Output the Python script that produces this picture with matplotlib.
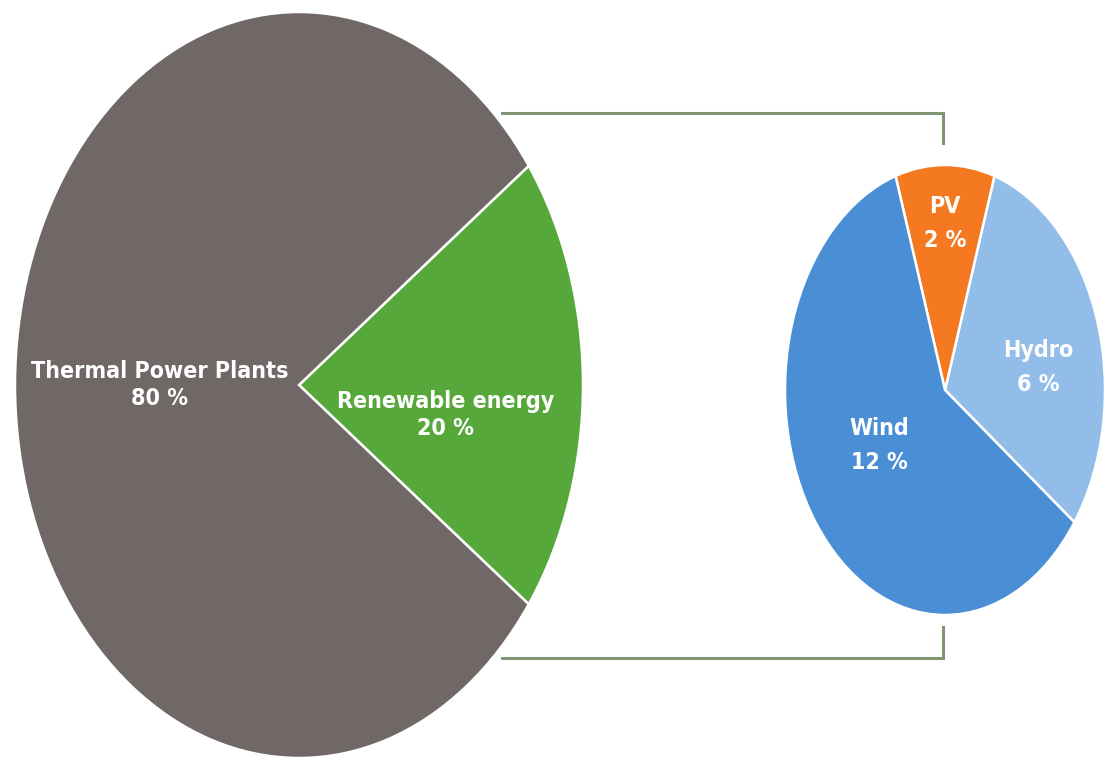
import matplotlib
matplotlib.use("Agg")
import matplotlib.pyplot as plt
from matplotlib.lines import Line2D
from matplotlib import font_manager
from matplotlib.font_manager import FontProperties

# ---- data ----
main_labels = ["Renewable energy", "Thermal Power Plants"]
main_values = [20, 80]
sub_labels = ["Hydro", "PV", "Wind"]
sub_values = [6, 2, 12]

# ---- style ----
main_colors = ["#57a83a", "#706867"]
sub_colors = ["#93bde9", "#f47920", "#4a8fd6"]
line_color = "#7f9672"

# look for a condensed / narrow bold face
cond = None
for f in font_manager.fontManager.ttflist:
    nm = f.name.lower()
    fn = f.fname.lower()
    is_cond = ("narrow" in nm or "condensed" in nm or "condensed" in fn
               or "narrow" in fn or str(f.stretch) in ("condensed", "semi-condensed"))
    is_bold = (f.weight in ("bold", 700) or "bold" in fn) and "italic" not in fn \
        and "oblique" not in fn
    if is_cond and is_bold:
        cond = f.fname
        break

W, H = 1110, 763
fig = plt.figure(figsize=(W / 100, H / 100), dpi=100)
fig.patch.set_facecolor("white")

if cond:
    base_fp = FontProperties(fname=cond)
else:
    base_fp = FontProperties(family="DejaVu Sans", weight="bold")

renderer = fig.canvas.get_renderer()
probe = fig.text(0, 0, "Thermal Power Plants", fontproperties=base_fp, fontsize=20)
wpx = probe.get_window_extent(renderer).width
probe.remove()
size = min(21.0, 20 * 258.0 / wpx)
fp = base_fp.copy()
fp.set_size(size)

def px_axes(x0, y0, x1, y1):
    return fig.add_axes([x0 / W, 1 - y1 / H, (x1 - x0) / W, (y1 - y0) / H])

ax1 = px_axes(15, 12, 583, 758)
ax2 = px_axes(785, 165, 1105, 615)

wedge_kw = dict(edgecolor="white", linewidth=1.8)
ax1.pie(main_values, colors=main_colors, startangle=-36, counterclock=True,
        wedgeprops=wedge_kw)
ax2.pie(sub_values, colors=sub_colors, startangle=-36, counterclock=True,
        wedgeprops=wedge_kw)

for ax in (ax1, ax2):
    ax.set_aspect("auto")
    ax.set_xlim(-1, 1)
    ax.set_ylim(-1, 1)
    ax.axis("off")

txt_kw = dict(color="white", ha="center", va="center", fontproperties=fp)

main_pos = [(0.515, -0.08), (-0.49, 0.0)]
for lab, val, (x, y) in zip(main_labels, main_values, main_pos):
    ax1.text(x, y, f"{lab}\n{val} %", linespacing=1.2, **txt_kw)

sub_pos = [(0.58, 0.10), (0.0, 0.74), (-0.41, -0.245)]
for lab, val, (x, y) in zip(sub_labels, sub_values, sub_pos):
    ax2.text(x, y, f"{lab}\n{val} %", linespacing=1.6, **txt_kw)

def fx(x):
    return x / W

def fy(y):
    return 1 - y / H

for (xa, ya), (xb, yb), (xc, yc) in [((502, 113), (943, 113), (943, 143)),
                                     ((502, 658), (943, 658), (943, 627))]:
    fig.add_artist(Line2D([fx(xa), fx(xb), fx(xc)], [fy(ya), fy(yb), fy(yc)],
                          color=line_color, linewidth=2.2,
                          solid_joinstyle="miter"))

fig.savefig("out.png", dpi=100, facecolor="white")
